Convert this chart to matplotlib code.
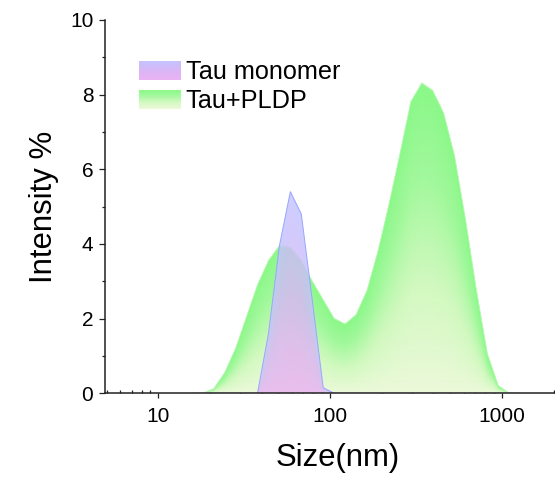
import numpy as np
import matplotlib
matplotlib.use("Agg")
import matplotlib.pyplot as plt
from matplotlib.colors import LinearSegmentedColormap
from matplotlib.legend_handler import HandlerBase
from matplotlib.patches import Patch, Rectangle
from matplotlib.ticker import MultipleLocator, LogLocator, NullFormatter, FuncFormatter

plt.rcParams["font.family"] = ["Liberation Sans", "DejaVu Sans"]

# DLS size bins (nm) and intensity (%)
size_nm = [15.69, 18.17, 21.04, 24.36, 28.21, 32.67, 37.84, 43.82, 50.75, 58.77,
           68.06, 78.82, 91.28, 105.7, 122.4, 141.8, 164.2, 190.1, 220.2, 255.0,
           295.3, 342.0, 396.1, 458.7, 531.2, 615.1, 712.4, 825.0, 955.4, 1106.0,
           1281.0]
tau_monomer = [0, 0, 0, 0, 0, 0, 0, 1.6, 3.95, 5.4,
               4.8, 2.5, 0.15, 0, 0, 0, 0, 0, 0, 0,
               0, 0, 0, 0, 0, 0, 0, 0, 0, 0,
               0]
tau_pldp = [0, 0, 0.12, 0.55, 1.2, 2.05, 2.9, 3.55, 3.95, 3.9,
            3.55, 3.0, 2.5, 2.0, 1.85, 2.1, 2.75, 3.8, 5.05, 6.4,
            7.8, 8.3, 8.1, 7.5, 6.35, 4.65, 2.75, 1.05, 0.2, 0,
            0]
labels = ["Tau monomer", "Tau+PLDP"]

green = LinearSegmentedColormap.from_list(
    "g", [(0, "#ecf9da"), (0.35, "#d2f9c0"), (0.7, "#a2f89c"), (1, "#8af888")])
violet = LinearSegmentedColormap.from_list(
    "v", [(0, "#eab2f2"), (0.5, "#d8b6f6"), (1, "#c2c4ff")])


def gradient_fill(ax, x, y, cmap, alpha=1.0, zorder=2, k=3):
    # each column fades from pale (bottom) to strong (its own top)
    bb = ax.get_window_extent()
    nx, ny = int(bb.width * k), int(bb.height * k)
    u = (np.arange(nx) + 0.5) / nx
    v = (np.arange(ny) + 0.5) / ny
    to_data = ax.transAxes + ax.transData.inverted()
    xd = to_data.transform(np.column_stack([u, np.zeros(nx)]))[:, 0]
    yd = to_data.transform(np.column_stack([np.zeros(ny), v]))[:, 1]
    top = np.interp(np.log10(xd), np.log10(x), y, left=0, right=0)
    Y, T = np.meshgrid(yd, top, indexing="ij")
    frac = np.where(T > 0, Y / np.where(T > 0, T, 1), 2)
    rgba = cmap(np.clip(frac, 0, 1))
    rgba[..., 3] = np.where(frac <= 1, alpha, 0)
    ax.imshow(rgba, extent=[0, 1, 0, 1], transform=ax.transAxes, origin="lower",
              aspect="auto", interpolation="antialiased", zorder=zorder)


class GradientHandler(HandlerBase):
    def __init__(self, cmap):
        super().__init__()
        self.cmap = cmap

    def create_artists(self, legend, orig_handle, xdescent, ydescent,
                       width, height, fontsize, trans):
        n = 30
        arts = []
        for i in range(n):
            r = Rectangle((-xdescent, -ydescent + height * i / n), width,
                          height / n * 1.05, facecolor=self.cmap((i + 0.5) / n),
                          edgecolor="none", transform=trans)
            arts.append(r)
        return arts


fig = plt.figure(figsize=(5.55, 4.79), dpi=100)
ax = fig.add_axes([105 / 555, (479 - 393.3) / 479, 450 / 555, 373.3 / 479])

ax.set_xscale("log")
ax.set_xlim(4.9, 2040)
ax.set_ylim(0, 10)

gradient_fill(ax, size_nm, tau_pldp, green, alpha=1.0, zorder=2)
gradient_fill(ax, size_nm, tau_monomer, violet, alpha=0.82, zorder=3)
ax.plot(size_nm, tau_pldp, color="#b8f8b0", lw=0.5, zorder=2.5)
ax.plot(size_nm, tau_monomer, color="#9aa6ff", lw=0.7, zorder=4)

ax.yaxis.set_major_locator(MultipleLocator(2))
ax.yaxis.set_minor_locator(MultipleLocator(1))
ax.xaxis.set_major_locator(LogLocator(base=10, numticks=10))
ax.xaxis.set_minor_locator(LogLocator(base=10, subs=np.arange(2, 10), numticks=20))
ax.xaxis.set_major_formatter(FuncFormatter(lambda v, p: f"{v:g}"))
ax.xaxis.set_minor_formatter(NullFormatter())

for side in ["top", "right"]:
    ax.spines[side].set_visible(False)
for side in ["left", "bottom"]:
    ax.spines[side].set_linewidth(1.1)
    ax.spines[side].set_color("#222222")
    ax.spines[side].set_zorder(5)

ax.tick_params(axis="y", which="major", direction="out", length=4.1, width=0.9,
               labelsize=15, pad=4.3, color="#222222")
ax.tick_params(axis="y", which="minor", direction="out", length=2.4, width=0.9,
               color="#222222")
ax.tick_params(axis="x", which="major", direction="out", length=3.6, width=0.9,
               labelsize=15, pad=6, color="#222222")
ax.tick_params(axis="x", which="minor", direction="in", length=2.5, width=0.9,
               color="#222222")

ax.set_xlabel("Size(nm)", fontsize=22.4)
ax.set_ylabel("Intensity %", fontsize=22.4)
ax.xaxis.set_label_coords(0.518, -0.133)
ax.yaxis.set_label_coords(-0.102, 0.5)

h_mono = Patch(label=labels[0])
h_pldp = Patch(label=labels[1])
ax.legend(handles=[h_mono, h_pldp],
          handler_map={h_mono: GradientHandler(violet), h_pldp: GradientHandler(green)},
          loc="upper left", bbox_to_anchor=(138.8 / 555, 1 - 60 / 479),
          bbox_transform=fig.transFigure, frameon=False, fontsize=18.2,
          handlelength=1.65, handleheight=0.8, handletextpad=0.2,
          labelspacing=0.2, borderpad=0, borderaxespad=0)

fig.savefig("out.png", dpi=100)
